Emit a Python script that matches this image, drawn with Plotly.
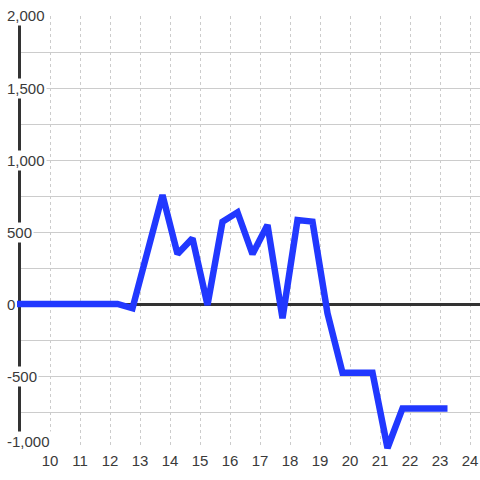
import plotly.graph_objects as go

# data: hour of day vs value
hours = [8.75, 9.25, 9.75, 10.25, 10.75, 11.25, 11.75, 12.25, 12.75, 13.75,
         14.25, 14.75, 15.25, 15.75, 16.25, 16.75, 17.25, 17.75, 18.25, 18.75,
         19.25, 19.75, 20.25, 20.75, 21.25, 21.75, 22.25, 22.75, 23.25]
values = [0, 0, 0, 0, 0, 0, 0, 0, -30, 757,
          347, 456, -7, 572, 637, 347, 549, -99, 583, 572,
          -65, -477, -477, -477, -1000, -725, -725, -725, -725]

y_tick_vals = [2000, 1500, 1000, 500, 0, -500, -1000]
y_tick_text = ["2,000", "1,500", "1,000", "500", "0", "-500", "-1,000"]
x_tick_vals = list(range(10, 25))

W = H = 480
FONT = "Liberation Sans, Arial, sans-serif"
TXT = "#3a3a3a"
GRID = "#cccccc"
AXIS = "#333333"

# pixel layout helpers
px_per_hour = 30.0
px_per_unit = 72.0 / 500.0
x10_px = 50.0
y0_px = 304.0

def xv(px):
    return 10 + (px - x10_px) / px_per_hour

def yv(py):
    return (y0_px - py) / px_per_unit

fig = go.Figure()

# blue series drawn on an invisible overlay subplot that is slightly larger
fig.add_trace(go.Scatter(
    x=hours, y=values, mode="lines",
    line=dict(color="#2138ff", width=6.5),
    xaxis="x2", yaxis="y2", hoverinfo="skip", showlegend=False,
))

annotations = []
for v, t in zip(y_tick_vals, y_tick_text):
    annotations.append(dict(
        x=5 / W, xref="paper", xanchor="left",
        y=v, yref="y", yanchor="middle",
        yshift=-7 if v == min(y_tick_vals) else 0,
        text=t, showarrow=False, bgcolor="white", borderpad=1,
        font=dict(family=FONT, size=15, color=TXT),
    ))
# the lowest label sits just above the axis bottom
annotations[-1]["yshift"] = 7

fig.update_layout(
    width=W, height=H,
    margin=dict(l=0, r=0, t=0, b=0),
    paper_bgcolor="white", plot_bgcolor="rgba(0,0,0,0)",
    showlegend=False,
    xaxis=dict(
        domain=[21 / W, 1], range=[xv(21), xv(480)],
        tickmode="array", tickvals=x_tick_vals,
        showgrid=True, gridcolor=GRID, gridwidth=1, griddash="3px,3px",
        zeroline=False, showline=False, ticks="",
        ticklabelstandoff=2,
        tickfont=dict(family=FONT, size=15, color=TXT),
        anchor="y",
    ),
    yaxis=dict(
        domain=[(H - 448) / H, (H - 16) / H], range=[-1000, 2000],
        tickmode="linear", tick0=0, dtick=250,
        showgrid=True, gridcolor=GRID, gridwidth=1,
        zeroline=True, zerolinecolor=AXIS, zerolinewidth=3,
        showline=True, linecolor=AXIS, linewidth=3,
        showticklabels=False, ticks="",
        anchor="x",
    ),
    xaxis2=dict(
        domain=[17 / W, 1], range=[xv(17), xv(480)],
        visible=False, anchor="y2",
    ),
    yaxis2=dict(
        domain=[(H - 456) / H, (H - 8) / H], range=[yv(456), yv(8)],
        visible=False, anchor="x2",
    ),
    annotations=annotations,
)

fig.write_html(
    "out.html",
    config={"displayModeBar": False},
    post_script="document.body.style.margin='0';document.body.style.overflow='hidden';",
)
